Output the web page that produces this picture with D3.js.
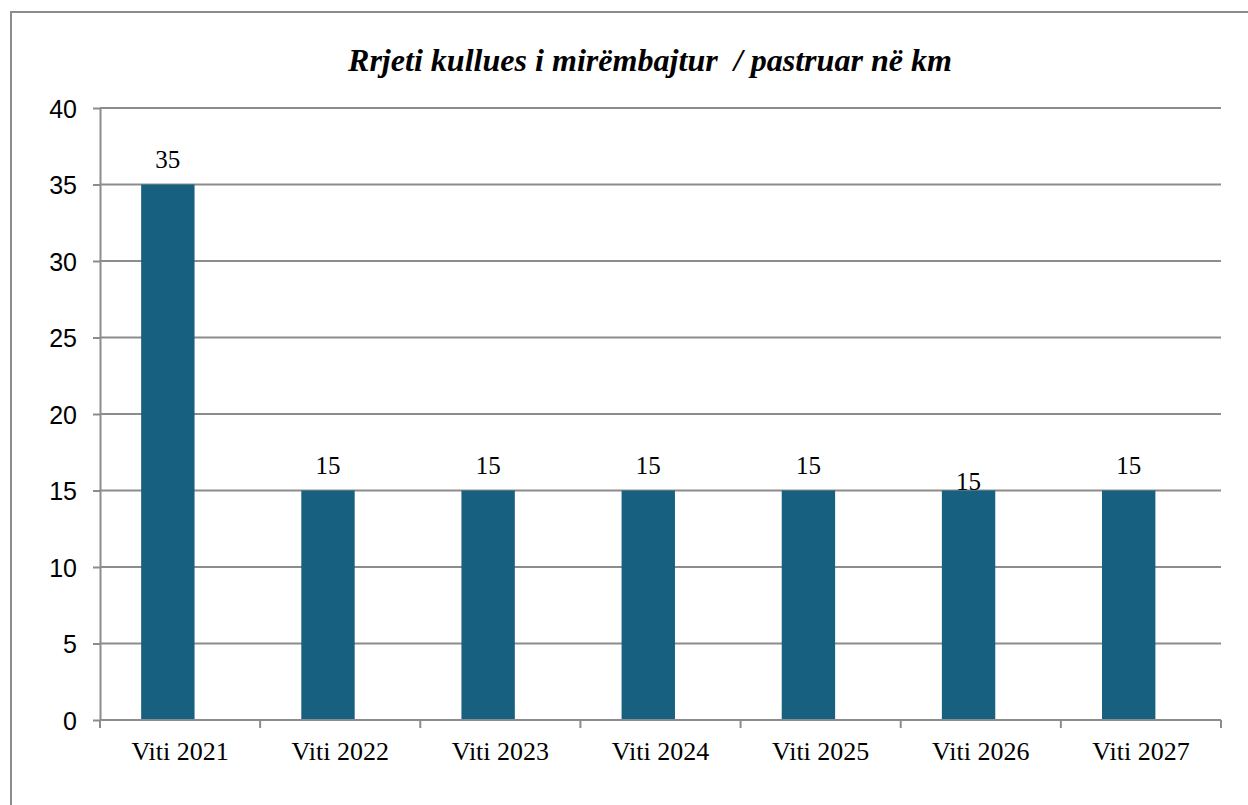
<!DOCTYPE html>
<html>
<head>
<meta charset="utf-8">
<script src="https://cdn.jsdelivr.net/npm/d3@7"></script>
<style>
  body { margin: 0; background: #fff; }
  .grid line { stroke: #8c8c8c; stroke-width: 2px; }
  .axis path, .axis line { stroke: #8c8c8c; stroke-width: 2px; }
</style>
</head>
<body>
<div id="content"></div>
<script>

  var categories = ["Viti 2021", "Viti 2022", "Viti 2023", "Viti 2024", "Viti 2025", "Viti 2026", "Viti 2027"];
  var values = [35, 15, 15, 15, 15, 15, 15];
  var yTicks = [0, 5, 10, 15, 20, 25, 30, 35, 40];
  var title = "Rrjeti kullues i mirëmbajtur  / pastruar në km";

  var serif = "'Liberation Serif', 'Times New Roman', serif";
  var sans = "'Liberation Sans', Arial, sans-serif";

  var width = 1248, height = 805;
  var margin = {left: 100, right: 27, top: 108, bottom: 85};

  var svg = d3.select("#content").append("svg")
      .attr("width", width)
      .attr("height", height);

  // outer chart border (clipped on right / bottom like the source)
  svg.append("rect")
      .attr("x", 11).attr("y", 12)
      .attr("width", 1300).attr("height", 900)
      .attr("fill", "none")
      .attr("stroke", "#8c8c8c")
      .attr("stroke-width", 2);

  var x = d3.scaleBand()
      .domain(categories)
      .range([margin.left, width - margin.right]);

  var y = d3.scaleLinear()
      .domain([0, 40])
      .range([height - margin.bottom, margin.top]);

  // gridlines
  svg.append("g")
      .attr("class", "grid")
    .selectAll("line")
    .data(yTicks.slice(1))
    .enter().append("line")
      .attr("x1", margin.left)
      .attr("x2", width - margin.right)
      .attr("y1", function(d) { return y(d); })
      .attr("y2", function(d) { return y(d); });

  // bars, shifted left of the band centre as in the original
  var barW = x.bandwidth() / 3;
  var barOffset = x.bandwidth() * 0.257;

  svg.append("g")
    .selectAll("rect")
    .data(values)
    .enter().append("rect")
      .attr("x", function(d, i) { return x(categories[i]) + barOffset; })
      .attr("width", barW)
      .attr("y", function(d) { return y(d); })
      .attr("height", function(d) { return y(0) - y(d); })
      .attr("fill", "#17607f");

  // data labels (the 2026 one sits lower in the source)
  var nudge = {"Viti 2026": 16};
  svg.append("g")
    .selectAll("text")
    .data(values)
    .enter().append("text")
      .style("font-family", serif)
      .style("font-size", "25px")
      .attr("fill", "#000")
      .attr("text-anchor", "middle")
      .attr("x", function(d, i) { return x(categories[i]) + barOffset + barW / 2; })
      .attr("y", function(d, i) { return y(d) - 17 + (nudge[categories[i]] || 0); })
      .text(function(d) { return d; });

  // y axis
  var yAxis = svg.append("g")
      .attr("class", "axis")
      .attr("transform", "translate(" + margin.left + ",0)")
      .call(d3.axisLeft(y).tickValues(yTicks).tickSize(7).tickPadding(16).tickSizeOuter(0));
  yAxis.selectAll(".tick text")
      .style("font-family", sans)
      .style("font-size", "25px")
      .attr("fill", "#000")
      .attr("dy", "0.36em");

  // x axis with ticks at the category boundaries
  var xAxis = svg.append("g")
      .attr("class", "axis")
      .attr("transform", "translate(0," + y(0) + ")")
      .call(d3.axisBottom(x).tickSize(0).tickSizeOuter(0));
  xAxis.select(".domain").attr("d", "M" + margin.left + ",0H" + (width - margin.right));
  xAxis.selectAll(".tick text")
      .style("font-family", serif)
      .style("font-size", "26px")
      .attr("fill", "#000")
      .attr("y", 40)
      .attr("dy", 0);

  var bounds = categories.map(function(c) { return x(c); }).concat([width - margin.right]);
  xAxis.selectAll(".bound")
    .data(bounds)
    .enter().append("line")
      .attr("class", "bound")
      .attr("x1", function(d) { return d; })
      .attr("x2", function(d) { return d; })
      .attr("y1", 0)
      .attr("y2", 8)
      .attr("stroke", "#8c8c8c")
      .attr("stroke-width", 2);

  // title
  svg.append("text")
      .attr("x", 650)
      .attr("y", 71)
      .attr("text-anchor", "middle")
      .style("font-family", serif)
      .style("font-size", "31px")
      .style("font-weight", "bold")
      .style("font-style", "italic")
      .style("white-space", "pre")
      .attr("textLength", 604)
      .attr("lengthAdjust", "spacingAndGlyphs")
      .text(title);

</script>
</body>
</html>
